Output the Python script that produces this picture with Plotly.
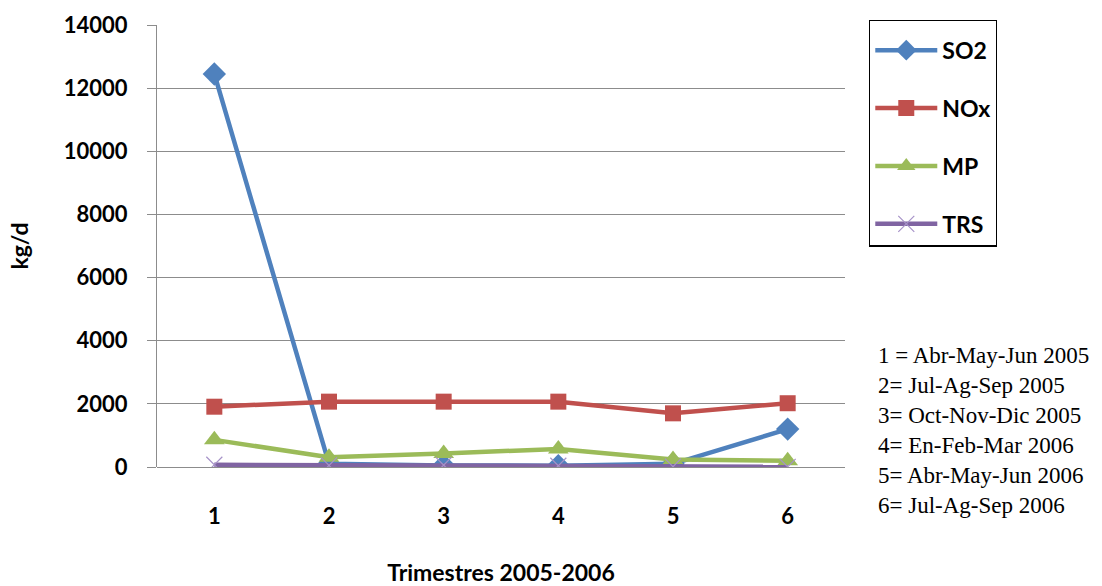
import plotly.graph_objects as go

quarters = ["1", "2", "3", "4", "5", "6"]
so2 = [12450, 100, 50, 40, 100, 1200]
nox = [1910, 2070, 2070, 2070, 1700, 2020]
mp = [860, 310, 430, 570, 240, 200]
trs = [70, 50, 60, 40, 10, 5]

y_ticks = [0, 2000, 4000, 6000, 8000, 10000, 12000, 14000]
period_notes = [
    "1 = Abr-May-Jun 2005",
    "2= Jul-Ag-Sep 2005",
    "3= Oct-Nov-Dic 2005",
    "4= En-Feb-Mar 2006",
    "5= Abr-May-Jun 2006",
    "6= Jul-Ag-Sep 2006",
]

SANS = "Lato, 'Open Sans', sans-serif"
SERIF = "'Liberation Serif', 'DejaVu Serif', serif"

fig = go.Figure()
series = [
    ("SO2", so2, "#4F81BD", dict(symbol="diamond", size=18, color="#4F81BD")),
    ("NOx", nox, "#C0504D", dict(symbol="square", size=16, color="#C0504D")),
    ("MP", mp, "#9BBB59", dict(symbol="triangle-up", size=18, color="#9BBB59")),
    ("TRS", trs, "#8064A2", dict(symbol="x-thin-open", size=16, color="#A692C8",
                                  line=dict(width=1.2, color="#A692C8"))),
]
for i, (name, vals, col, mk) in enumerate(series):
    fig.add_trace(go.Scatter(
        x=quarters, y=vals, name=name, mode="lines+markers",
        line=dict(color=col, width=4.5), marker=mk, legendgroup=f"g{i}",
    ))

fig.update_layout(
    width=1102, height=586,
    margin=dict(l=157, r=257, t=25, b=119, autoexpand=False),
    paper_bgcolor="white", plot_bgcolor="white",
    showlegend=True,
    legend=dict(
        x=1.035, y=1.012, xanchor="left", yanchor="top",
        bordercolor="#000000", borderwidth=1.2, bgcolor="white",
        font=dict(family=SANS, size=23, color="#000000", weight="bold"),
        tracegroupgap=25, itemwidth=62,
        title=dict(text=" ", font=dict(size=6)),
    ),
    xaxis=dict(
        type="category", range=[-0.5, 5.5], automargin=False,
        showgrid=False, showline=False, zeroline=False, ticks="",
        tickfont=dict(family=SANS, size=22, color="#000000", weight="bold"),
        ticklabelstandoff=34,
        title=dict(text="Trimestres 2005-2006", standoff=36,
                   font=dict(family=SANS, size=23, color="#000000", weight="bold")),
    ),
    yaxis=dict(
        range=[0, 14000], tickvals=y_ticks, tickformat="d", automargin=False,
        showgrid=True, gridcolor="#8C8C8C", gridwidth=1,
        showline=True, linecolor="#8C8C8C", linewidth=1,
        ticks="outside", ticklen=9, tickcolor="#8C8C8C",
        ticklabelstandoff=15,
        zeroline=True, zerolinecolor="#8C8C8C", zerolinewidth=1,
        tickfont=dict(family=SANS, size=22, color="#000000", weight="bold"),
        title=dict(text="kg/d", standoff=28,
                   font=dict(family=SANS, size=23, color="#000000", weight="bold")),
    ),
    annotations=[dict(
        xref="paper", yref="paper", x=1.045, y=0.285, xanchor="left", yanchor="top",
        text="<br>".join(period_notes), showarrow=False, align="left",
        font=dict(family=SERIF, size=23, color="#000000"),
    )],
)

fig.write_html("out.html")
